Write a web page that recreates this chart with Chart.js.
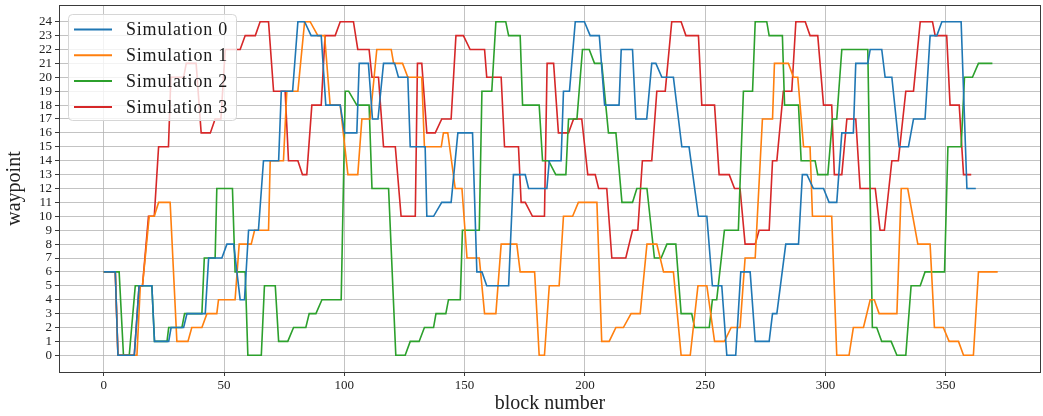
<!DOCTYPE html>
<html>
<head>
<meta charset="utf-8">
<script src="https://cdn.jsdelivr.net/npm/chart.js@4.4.1/dist/chart.umd.min.js"></script>
<style>
  html, body { margin: 0; padding: 0; background: #fff; }
  #wrap { width: 1043px; height: 416px; }
</style>
</head>
<body>
<div id="wrap"><canvas id="chart" width="1043" height="416"></canvas></div>
<script>
// Waypoint per block number, corners ([block, waypoint]).
const SIM0 = [
  [0,6],[4.8,6],[5.9,0],[12.7,0],[14.7,5],[20,5],[21.1,1],[27,1],[28,2],[33.2,2],[34.6,3],[42.2,3],
  [43.6,7],[49.1,7],[51.2,8],[54,8],[56.7,4],[58.5,4],[60.2,9],[64.3,9],[66.4,14],[72.7,14],[73.8,19],
  [78.5,19],[80.7,24],[83.5,24],[86.2,23],[90.4,23],[92.3,18],[98.3,18],[100.1,16],[105.2,16],[106.2,21],
  [110,21],[111.7,17],[114,17],[116.3,21],[120.9,21],[122.5,20],[126.4,20],[127.4,15],[133.6,15],[134.3,10],
  [137.1,10],[140.5,11],[144.4,11],[147.2,16],[153.3,16],[155.1,6],[157.2,6],[159.2,5],[168.3,5],[170.3,13],
  [175.2,13],[176.6,12],[184.2,12],[185.2,14],[190.1,14],[191.1,19],[193.6,19],[196,24],[199.8,24],[202.2,23],
  [206,23],[208.2,18],[214.2,18],[215.1,22],[219.8,22],[221.2,17],[225.7,17],[227.8,21],[229.5,21],[232,20],
  [236.8,20],[240.3,15],[243.3,15],[247.2,10],[250.7,10],[253,5],[256.9,5],[259,0],[262.7,0],[264.8,6],
  [268.7,6],[270.8,1],[276.6,1],[278,3],[279.8,3],[283.5,8],[288.8,8],[290.4,13],[292.3,13],[295,12],
  [299.2,12],[301.5,11],[304.7,11],[306.8,16],[311.6,16],[312.6,21],[317.6,21],[318.6,22],[323.4,22],
  [324.8,20],[327.6,20],[330.6,15],[334.5,15],[336.6,17],[341.4,17],[343.5,23],[346.3,23],[348.4,24],
  [356.4,24],[358.8,12],[362.5,12]
];
const SIM1 = [
  [0,6],[4.8,6],[5.9,0],[13.8,0],[15.2,5],[16.1,5],[18.9,10],[21,10],[22.8,11],[27.6,11],[30.4,1],[35,1],
  [36.6,2],[40.8,2],[42.9,3],[47,3],[47.7,4],[54.6,4],[56.3,8],[61.3,8],[62.7,9],[68.5,9],[69.2,14],
  [74.7,14],[76.1,19],[80.7,19],[83.5,24],[85.8,24],[89,23],[91.8,23],[94.1,18],[98.3,18],[101.5,13],
  [105.6,13],[107.3,17],[110.7,17],[113.5,22],[119.5,22],[120.5,21],[124.2,21],[126.4,20],[132.2,20],
  [133.3,15],[140.3,15],[141.2,16],[143,16],[146.1,12],[148.9,12],[151,7],[156.1,7],[158.3,3],[163,3],
  [165.2,8],[171.7,8],[173.1,6],[179.1,6],[181,0],[183.2,0],[185.2,5],[189.3,5],[191.1,10],[194.9,10],
  [197.3,11],[205,11],[207,1],[210.1,1],[212.9,2],[216,2],[219.2,3],[223,3],[225.8,8],[229.9,8],[232.7,6],
  [236.8,6],[240,0],[243.8,0],[247,5],[250.7,5],[253.9,1],[258,1],[260.8,2],[264.5,2],[266.6,7],[270.8,7],
  [273.8,17],[278,17],[278.8,21],[284.6,21],[286.7,20],[288.5,20],[290.9,15],[293.6,15],[294.6,10],
  [302.6,10],[304.7,0],[309.8,0],[311.6,2],[315.8,2],[318.6,4],[320.3,4],[322.3,3],[329.7,3],[331.5,12],
  [334.2,12],[338.4,8],[343.5,8],[345.3,2],[349,2],[351.4,1],[355.3,1],[357.4,0],[361.5,0],[363.6,6],
  [371.6,6]
];
const SIM2 = [
  [0,6],[6.4,6],[8.2,0],[10.6,0],[13.1,5],[20,5],[21.1,1],[26.3,1],[27,2],[32.5,2],[33.6,3],[40.8,3],
  [41.8,7],[46.3,7],[47,12],[53.5,12],[54.6,6],[58.8,6],[59.9,0],[65.5,0],[66.8,5],[71.3,5],[72.7,1],
  [76.5,1],[78.9,2],[84,2],[85.4,3],[88.2,3],[90.7,4],[98.7,4],[100.4,19],[101.8,19],[105.2,18],[110.3,18],
  [111.5,12],[118.4,12],[121.4,0],[125.3,0],[127.4,1],[131.1,1],[133.3,2],[137.1,2],[138.1,3],[142.2,3],
  [143.3,4],[148.2,4],[149.1,9],[156.1,9],[157.2,19],[161.3,19],[163,24],[167.1,24],[168.3,23],[173.1,23],
  [174.1,18],[181,18],[182.4,14],[184.9,14],[187.9,13],[192.1,13],[193.2,17],[196.7,17],[199,22],
  [201.8,22],[204,21],[207,21],[209.8,16],[212.9,16],[215.4,11],[219.8,11],[221.6,12],[225.8,12],
  [228.9,7],[231.7,7],[234.1,8],[237.8,8],[240,3],[244.4,3],[245.6,2],[251.7,2],[253,4],[254.8,4],[258,9],
  [263.8,9],[265.9,19],[269.7,19],[270.8,24],[275.6,24],[276.6,23],[282.1,23],[283,18],[288.8,18],
  [289.9,14],[295.7,14],[296.8,13],[301,13],[302.9,17],[304.7,17],[306.8,22],[317.6,22],[319.5,2],
  [321.3,2],[323.4,1],[327.3,1],[329.7,0],[333.4,0],[335.6,5],[339.4,5],[341.4,6],[349.5,6],[350.9,15],
  [356.4,15],[357.8,20],[361.1,20],[363.6,21],[369.4,21]
];
const SIM3 = [
  [0,6],[4.8,6],[5.9,0],[12.7,0],[14.7,5],[16.1,5],[18.6,10],[21,10],[22.8,15],[26.9,15],[27.9,20],
  [33.2,20],[34.3,21],[38.4,21],[40.5,16],[44.3,16],[46.3,17],[48.7,17],[50.5,22],[56.7,22],[58.8,23],
  [63,23],[65,24],[68.5,24],[70.6,19],[75.4,19],[76.8,14],[80.7,14],[82.6,13],[84.4,13],[86.5,18],
  [90.4,18],[92,23],[96.2,23],[98.3,24],[103.8,24],[105.6,22],[110.3,22],[111.5,20],[114.2,20],[116.3,15],
  [121.2,15],[123.6,10],[129.5,10],[130.4,21],[132.2,21],[134.3,16],[137.8,16],[140.5,17],[144.4,17],
  [146.4,23],[149.5,23],[152.3,22],[158.3,22],[159.2,20],[165.2,20],[166.6,15],[172.4,15],[173.5,11],
  [175.2,11],[178.2,10],[183.2,10],[184.3,21],[187,21],[189,16],[193.2,16],[195.3,17],[198.7,17],
  [201.2,13],[204.3,13],[205.7,12],[209.1,12],[211.2,7],[217,7],[219.8,9],[222,9],[223.9,14],[227.8,14],
  [229.9,19],[233.4,19],[236.1,24],[240,24],[242,23],[247.2,23],[248.6,18],[253.9,18],[255.8,13],[260,13],
  [262.2,12],[264.5,12],[266.6,8],[270.8,8],[272.4,9],[276.6,9],[278,14],[279.8,14],[282.5,19],[286,19],
  [287.7,24],[291.6,24],[293.6,23],[296.8,23],[299.2,18],[302.6,18],[303.7,13],[306.8,13],[308.9,17],
  [312.6,17],[314.4,12],[320.7,12],[322.7,9],[324.5,9],[327.6,14],[330.3,14],[333.4,19],[336.6,19],
  [339.4,24],[344.5,24],[345.6,23],[350.4,23],[351.8,18],[355.6,18],[357.4,13],[360.6,13]
];

const SERIES_LABELS = ['Simulation 0', 'Simulation 1', 'Simulation 2', 'Simulation 3'];
const X_TICKS = [0, 50, 100, 150, 200, 250, 300, 350];
const Y_TICKS = [0, 1, 2, 3, 4, 5, 6, 7, 8, 9, 10, 11, 12, 13, 14, 15, 16, 17, 18, 19, 20, 21, 22, 23, 24];

// matplotlib tab10
const COLORS = ['#1f77b4', '#ff7f0e', '#2ca02c', '#d62728'];
const FONT = '"Liberation Serif", "DejaVu Serif", serif';
const SPINE = '#3a3a3a';
const GRID = 'rgba(176,176,176,0.85)';

// ---------- plugins ----------------------------------------------------------

const framePlugin = {
  id: 'frame',
  afterDatasetsDraw(chart) {
    const { ctx, chartArea: a } = chart;
    ctx.save();
    ctx.strokeStyle = SPINE;
    ctx.lineWidth = 1;
    ctx.strokeRect(a.left + 0.5, a.top + 0.5, a.right - a.left - 1, a.bottom - a.top);
    ctx.restore();
  },
};

// matplotlib-style legend sitting inside the axes, upper left
const boxLegendPlugin = {
  id: 'boxLegend',
  afterDraw(chart) {
    const { ctx, chartArea: a } = chart;
    const x = a.left + 9, y = a.top + 9;
    const w = 168, rowH = 25.8, h = 106;
    ctx.save();
    ctx.beginPath();
    ctx.roundRect(x + 0.5, y + 0.5, w, h, 4);
    ctx.fillStyle = 'rgba(255,255,255,0.8)';
    ctx.fill();
    ctx.strokeStyle = '#d6d6d6';
    ctx.lineWidth = 1;
    ctx.stroke();
    ctx.font = '18px ' + FONT;
    ctx.letterSpacing = '0.8px';
    ctx.textBaseline = 'middle';
    chart.data.datasets.forEach((ds, i) => {
      const cy = y + 15.5 + i * rowH;
      ctx.strokeStyle = ds.borderColor;
      ctx.lineWidth = 2;
      ctx.beginPath();
      ctx.moveTo(x + 6, cy);
      ctx.lineTo(x + 44, cy);
      ctx.stroke();
      ctx.fillStyle = '#1a1a1a';
      ctx.fillText(ds.label, x + 58, cy + 1);
    });
    ctx.restore();
  },
};

// ---------- chart -------------------------------------------------------------

const seriesData = [SIM0, SIM1, SIM2, SIM3];

new Chart(document.getElementById('chart'), {
  type: 'line',
  data: {
    datasets: seriesData.map((pts, i) => ({
      label: SERIES_LABELS[i],
      data: pts.map(([x, y]) => ({ x, y })),
      borderColor: COLORS[i],
      backgroundColor: COLORS[i],
      borderWidth: 1.6,
      pointRadius: 0,
      tension: 0,
      fill: false,
    })),
  },
  options: {
    responsive: false,
    animation: false,
    layout: { padding: { left: 0, right: 2, top: 5, bottom: 0 } },
    plugins: {
      legend: { display: false },
      tooltip: { enabled: false },
    },
    scales: {
      x: {
        type: 'linear',
        min: -18.6,
        max: 389.6,
        afterBuildTicks: (s) => { s.ticks = X_TICKS.map((v) => ({ value: v })); },
        afterFit: (s) => { s.height = 44; s.paddingLeft = 0; s.paddingRight = 0; },
        grid: { color: GRID, lineWidth: 0.9, drawTicks: true, tickLength: 4, tickColor: SPINE, tickWidth: 1 },
        border: { display: false },
        ticks: { color: '#222', padding: 2, maxRotation: 0, font: { family: FONT, size: 13 } },
        title: {
          display: true, text: 'block number', color: '#222',
          font: { family: FONT, size: 20 }, padding: { top: 0, bottom: 0 },
        },
      },
      y: {
        type: 'linear',
        min: -1.2,
        max: 25.2,
        afterBuildTicks: (s) => { s.ticks = Y_TICKS.map((v) => ({ value: v })); },
        afterFit: (s) => { s.width = 59; s.paddingTop = 0; s.paddingBottom = 0; },
        grid: { color: GRID, lineWidth: 0.9, drawTicks: true, tickLength: 4, tickColor: SPINE, tickWidth: 1 },
        border: { display: false },
        ticks: { color: '#222', padding: 3, autoSkip: false, font: { family: FONT, size: 13 } },
        title: {
          display: true, text: 'waypoint', color: '#222',
          font: { family: FONT, size: 20 }, padding: { top: 3, bottom: 0 },
        },
      },
    },
  },
  plugins: [framePlugin, boxLegendPlugin],
});
</script>
</body>
</html>
